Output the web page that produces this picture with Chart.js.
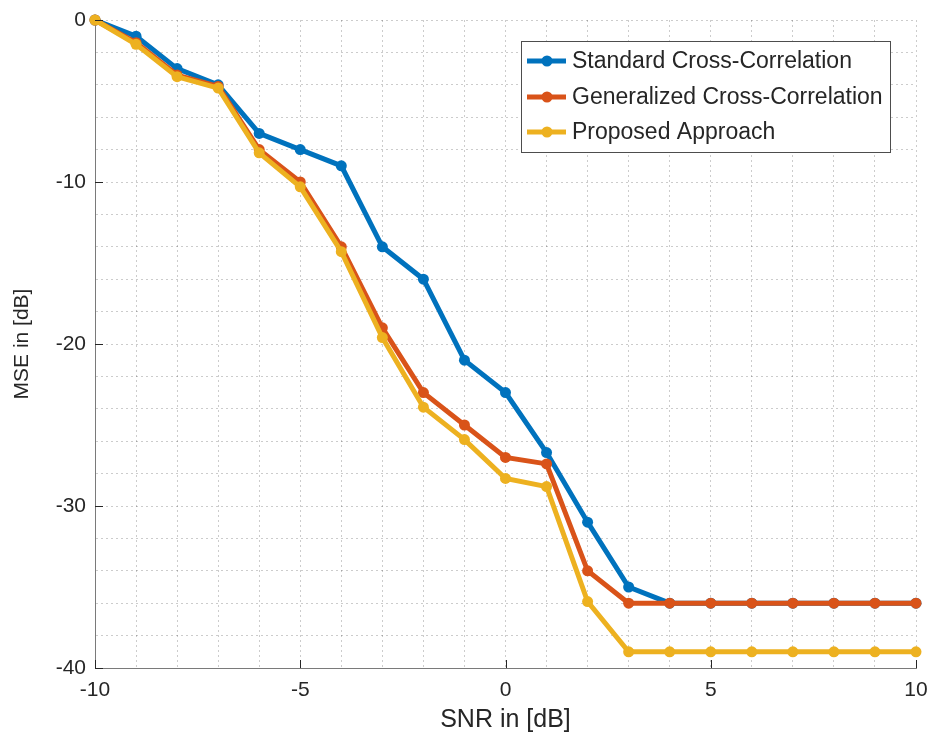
<!DOCTYPE html>
<html>
<head>
<meta charset="utf-8">
<script src="https://cdn.jsdelivr.net/npm/chart.js@4/dist/chart.umd.min.js"></script>
<style>
  html, body { margin: 0; padding: 0; background: #fff; }
  #wrap { width: 932px; height: 740px; position: relative; }
</style>
</head>
<body>
<div id="wrap"><canvas id="c"></canvas></div>
<script>
// SNR sweep in dB
const snr = [-10, -9, -8, -7, -6, -5, -4, -3, -2, -1, 0, 1, 2, 3, 4, 5, 6, 7, 8, 9, 10];

// MSE in dB for each estimator
const standardCC    = [0, -1, -3, -4, -7, -8, -9, -14, -16, -21, -23, -26.7, -31, -35, -36, -36, -36, -36, -36, -36, -36];
const generalizedCC = [0, -1.4, -3.4, -4.1, -8, -10, -14, -19, -23, -25, -27, -27.4, -34, -36, -36, -36, -36, -36, -36, -36, -36];
const proposed      = [0, -1.5, -3.5, -4.2, -8.2, -10.3, -14.3, -19.6, -23.9, -25.9, -28.3, -28.8, -35.9, -39, -39, -39, -39, -39, -39, -39, -39];

const seriesLabels = ['Standard Cross-Correlation', 'Generalized Cross-Correlation', 'Proposed Approach'];
const seriesColors = ['#0072BD', '#D95319', '#EDB120'];

const xMajorTicks = [-10, -5, 0, 5, 10];
const yMajorTicks = [0, -10, -20, -30, -40];

const FONT = "'Liberation Sans', Arial, Helvetica, sans-serif";
const TEXT = '#262626';

function toPoints(values) {
  return snr.map((x, i) => ({ x: x, y: values[i] }));
}

function makeDataset(idx, values, order) {
  return {
    label: seriesLabels[idx],
    data: toPoints(values),
    borderColor: seriesColors[idx],
    backgroundColor: seriesColors[idx],
    borderWidth: 5,
    pointRadius: 5.5,
    pointHoverRadius: 5.5,
    pointBorderWidth: 0,
    tension: 0,
    fill: false,
    clip: false,
    order: order
  };
}

// inward tick marks at the labelled positions
const innerTicks = {
  id: 'innerTicks',
  afterDraw(chart) {
    const { ctx, chartArea: a, scales: { x, y } } = chart;
    ctx.save();
    ctx.strokeStyle = TEXT;
    ctx.lineWidth = 1;
    ctx.beginPath();
    xMajorTicks.forEach(v => {
      const px = Math.round(x.getPixelForValue(v)) + 0.5;
      ctx.moveTo(px, a.bottom);
      ctx.lineTo(px, a.bottom - 8);
    });
    yMajorTicks.forEach(v => {
      const py = Math.round(y.getPixelForValue(v)) + 0.5;
      ctx.moveTo(a.left, py);
      ctx.lineTo(a.left + 8, py);
    });
    ctx.stroke();
    ctx.restore();
  }
};

// boxed legend in the upper right of the plot
const boxLegend = {
  id: 'boxLegend',
  afterDraw(chart) {
    const { ctx } = chart;
    const left = 521, top = 41, width = 369, height = 111;
    const rowY = [61, 97, 132];
    ctx.save();
    ctx.fillStyle = '#ffffff';
    ctx.fillRect(left, top, width, height);
    ctx.strokeStyle = '#4d4d4d';
    ctx.lineWidth = 1;
    ctx.strokeRect(left + 0.5, top + 0.5, width, height);
    chart.data.datasets.forEach((ds, i) => {
      const yy = rowY[i];
      ctx.strokeStyle = ds.borderColor;
      ctx.lineWidth = ds.borderWidth;
      ctx.beginPath();
      ctx.moveTo(527, yy);
      ctx.lineTo(566, yy);
      ctx.stroke();
      ctx.fillStyle = ds.borderColor;
      ctx.beginPath();
      ctx.arc(547, yy, ds.pointRadius, 0, Math.PI * 2);
      ctx.fill();
      ctx.fillStyle = TEXT;
      ctx.font = '23px ' + FONT;
      ctx.textBaseline = 'middle';
      ctx.textAlign = 'left';
      ctx.fillText(ds.label, 572, yy + 1);
    });
    ctx.restore();
  }
};

const gridStyle = {
  color: 'rgba(0,0,0,0.2)',
  lineWidth: 1,
  drawTicks: false
};

new Chart(document.getElementById('c'), {
  type: 'line',
  data: {
    datasets: [
      makeDataset(0, standardCC, 3),
      makeDataset(1, generalizedCC, 2),
      makeDataset(2, proposed, 1)
    ]
  },
  options: {
    responsive: true,
    maintainAspectRatio: false,
    animation: false,
    events: [],
    layout: { padding: { left: 0, right: 16, top: 20, bottom: 0 } },
    plugins: {
      legend: { display: false },
      tooltip: { enabled: false }
    },
    scales: {
      x: {
        type: 'linear',
        min: -10,
        max: 10,
        grid: gridStyle,
        border: { display: true, color: '#7a7a7a', width: 1, dash: [2, 3] },
        ticks: {
          stepSize: 1,
          autoSkip: false,
          maxRotation: 0,
          padding: 10,
          color: TEXT,
          font: { family: FONT, size: 21 },
          callback: v => (v % 5 === 0 ? String(v) : '')
        },
        title: {
          display: true,
          text: 'SNR in [dB]',
          color: TEXT,
          font: { family: FONT, size: 25 },
          padding: { top: 0, bottom: 5 }
        },
        afterFit(scale) {
          scale.height = 72;
          scale.paddingLeft = 0;
          scale.paddingRight = 0;
        }
      },
      y: {
        type: 'linear',
        min: -40,
        max: 0,
        grid: gridStyle,
        border: { display: true, color: '#7a7a7a', width: 1, dash: [2, 3] },
        ticks: {
          stepSize: 2,
          autoSkip: false,
          padding: 9,
          color: TEXT,
          font: { family: FONT, size: 21 },
          callback: v => (v % 10 === 0 ? String(v) : '')
        },
        title: {
          display: true,
          text: 'MSE in [dB]',
          color: TEXT,
          font: { family: FONT, size: 21 },
          padding: { top: 10, bottom: 0 }
        },
        afterFit(scale) {
          scale.width = 95;
          scale.paddingTop = 0;
          scale.paddingBottom = 0;
        }
      }
    }
  },
  plugins: [innerTicks, boxLegend]
});
</script>
</body>
</html>
